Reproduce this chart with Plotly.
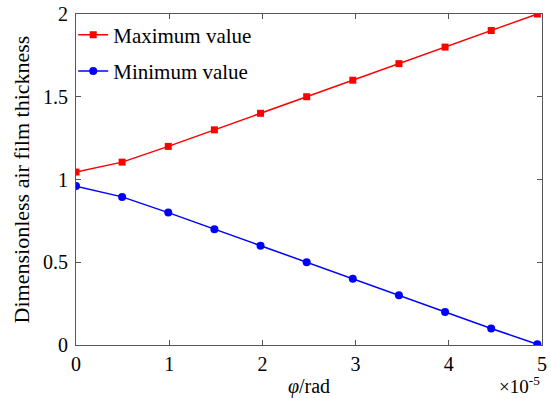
import plotly.graph_objects as go

# Rotation angle, in units of 1e-5 rad
phi = [0.0, 0.495, 0.99, 1.485, 1.98, 2.475, 2.97, 3.465, 3.96, 4.455, 4.95]
# Dimensionless air film thickness
h_max = [1.045, 1.105, 1.20, 1.30, 1.40, 1.50, 1.60, 1.70, 1.80, 1.90, 2.00]
h_min = [0.96, 0.895, 0.80, 0.70, 0.60, 0.50, 0.40, 0.30, 0.20, 0.10, 0.005]

x_ticks = [0, 1, 2, 3, 4, 5]
y_ticks = [0, 0.5, 1, 1.5, 2]
y_tick_text = ["0", "0.5", "1", "1.5", "2"]

FONT = "Times New Roman, Liberation Serif, DejaVu Serif, serif"
AXIS = "#555555"

fig = go.Figure()
fig.add_trace(go.Scatter(
    x=phi, y=h_max, mode="lines+markers", name="Maximum value", legendgroup="max",
    line=dict(color="#ff0000", width=1.5),
    marker=dict(symbol="square", size=7, color="#ff0000"),
))
fig.add_trace(go.Scatter(
    x=phi, y=h_min, mode="lines+markers", name="Minimum value", legendgroup="min",
    line=dict(color="#0000ff", width=1.5),
    marker=dict(symbol="circle", size=8, color="#0000ff"),
))

axis_common = dict(
    showline=True, linecolor=AXIS, linewidth=1, mirror="allticks",
    ticks="inside", ticklen=5, tickcolor=AXIS, showgrid=False, zeroline=False,
    automargin=False,
    tickfont=dict(family=FONT, size=20, color="black"),
)

fig.update_xaxes(range=[0, 5], tickvals=x_ticks, ticktext=[str(t) for t in x_ticks],
                 ticklabelstandoff=1,
                 title=dict(text="<i>φ</i>/rad", font=dict(family=FONT, size=20, color="black"), standoff=6),
                 **axis_common)
fig.update_yaxes(range=[0, 2], tickvals=y_ticks, ticktext=y_tick_text,
                 ticklabelstandoff=3,
                 title=dict(text="Dimensionless air film thickness", font=dict(family=FONT, size=22, color="black"), standoff=7),
                 **axis_common)

fig.add_annotation(text="×10<sup>-5</sup>", xref="paper", yref="paper", x=1.0, y=-0.122,
                   xanchor="right", yanchor="middle", showarrow=False,
                   font=dict(family=FONT, size=19, color="black"))

fig.update_layout(
    width=551, height=398,
    margin=dict(l=76, r=9, t=14, b=53, autoexpand=False),
    paper_bgcolor="white", plot_bgcolor="white",
    font=dict(family=FONT, size=20, color="black"),
    showlegend=True,
    legend=dict(x=-0.006, y=0.998, xanchor="left", yanchor="top", bgcolor="rgba(0,0,0,0)",
                font=dict(family=FONT, size=21, color="black"),
                traceorder="grouped", tracegroupgap=6),
)

fig.write_html("out.html")
